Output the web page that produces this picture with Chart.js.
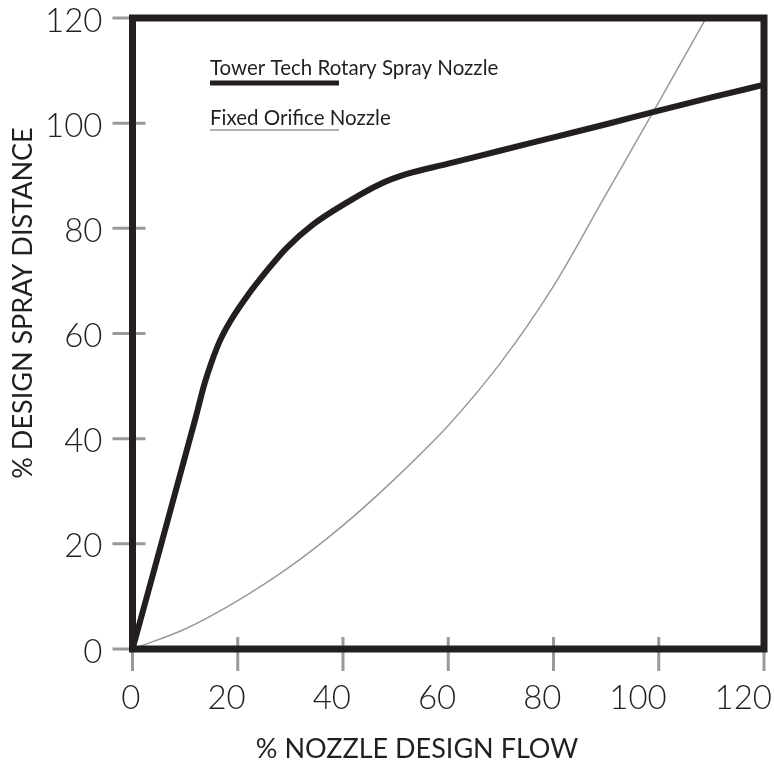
<!DOCTYPE html>
<html>
<head>
<meta charset="utf-8">
<script src="https://cdn.jsdelivr.net/npm/chart.js@4.4.1/dist/chart.umd.min.js"></script>
<style>
  html, body { margin: 0; padding: 0; background: #fff; }
  #wrap { width: 774px; height: 763px; }
</style>
</head>
<body>
<div id="wrap"><canvas id="nozzleChart" width="774" height="763"></canvas></div>
<script>
// Axis ticks
const xTicks = [0, 20, 40, 60, 80, 100, 120];
const yTicks = [0, 20, 40, 60, 80, 100, 120];

// Tower Tech rotary nozzle
const towerFlow = [0, 12, 13.7, 15, 16.6, 18.5, 21.7, 25.5, 29.3, 34.4, 40.7, 47, 52, 60, 70, 80, 90, 100, 110, 120];
const towerDist = [0, 44, 50.5, 54.5, 58.6, 62.2, 67, 71.9, 76.3, 80.8, 84.9, 88.4, 90.3, 92.3, 94.8, 97.3, 99.8, 102.4, 104.9, 107.3];

// Fixed orifice nozzle
const fixedFlow = [0, 10, 20, 30, 40, 50, 60, 70, 80, 90, 100, 109];
const fixedDist = [0, 3.8, 9.2, 15.7, 23.5, 32.5, 42.5, 54.5, 69, 86.5, 104, 120];

const INK = '#231f20';
const GREY = '#999999';
const FONT = 'Lato, "Noto Sans", sans-serif';

const toPoints = (xs, ys) => xs.map((x, i) => ({ x: x, y: ys[i] }));

// gray tick marks that straddle the axes
const tickMarks = {
    id: 'tickMarks',
    beforeDatasetsDraw(chart) {
        const { ctx, chartArea, scales } = chart;
        ctx.save();
        ctx.strokeStyle = GREY;
        ctx.lineWidth = 3;
        xTicks.forEach(v => {
            const px = scales.x.getPixelForValue(v);
            ctx.beginPath();
            ctx.moveTo(px, chartArea.bottom - 12);
            ctx.lineTo(px, chartArea.bottom + 22);
            ctx.stroke();
        });
        yTicks.forEach(v => {
            const py = scales.y.getPixelForValue(v);
            ctx.beginPath();
            ctx.moveTo(chartArea.left - 20, py);
            ctx.lineTo(chartArea.left + 13, py);
            ctx.stroke();
        });
        ctx.restore();
    }
};

// frame, legend and axis titles
const frameAndLabels = {
    id: 'frameAndLabels',
    afterDatasetsDraw(chart) {
        const { ctx, chartArea } = chart;
        ctx.save();
        ctx.strokeStyle = INK;
        ctx.lineWidth = 7;
        ctx.strokeRect(chartArea.left, chartArea.top, chartArea.right - chartArea.left, chartArea.bottom - chartArea.top);

        // legend
        ctx.fillStyle = INK;
        ctx.font = '20.5px ' + FONT;
        ctx.textAlign = 'left';
        ctx.textBaseline = 'alphabetic';
        ctx.fillText('Tower Tech Rotary Spray Nozzle', 210, 75);
        ctx.fillText('Fixed Orifice Nozzle', 210, 125);
        ctx.lineWidth = 5;
        ctx.beginPath();
        ctx.moveTo(210, 83);
        ctx.lineTo(339, 83);
        ctx.stroke();
        ctx.strokeStyle = GREY;
        ctx.lineWidth = 1.5;
        ctx.beginPath();
        ctx.moveTo(210, 130);
        ctx.lineTo(339, 130);
        ctx.stroke();

        // axis titles
        ctx.font = '27px ' + FONT;
        ctx.textAlign = 'center';
        ctx.textBaseline = 'middle';
        ctx.fillText('% NOZZLE DESIGN FLOW', 417, 749);
        ctx.translate(23, 303);
        ctx.rotate(-Math.PI / 2);
        ctx.fillText('% DESIGN SPRAY DISTANCE', 0, 0);
        ctx.restore();
    }
};

new Chart(document.getElementById('nozzleChart'), {
    type: 'scatter',
    data: {
        datasets: [
            {
                label: 'Tower Tech Rotary Spray Nozzle',
                data: toPoints(towerFlow, towerDist),
                showLine: true,
                borderColor: INK,
                borderWidth: 6,
                pointRadius: 0,
                cubicInterpolationMode: 'monotone'
            },
            {
                label: 'Fixed Orifice Nozzle',
                data: toPoints(fixedFlow, fixedDist),
                showLine: true,
                borderColor: GREY,
                borderWidth: 1.5,
                pointRadius: 0,
                cubicInterpolationMode: 'monotone'
            }
        ]
    },
    options: {
        responsive: false,
        animation: false,
        layout: { padding: { top: 18, right: 10, left: 0, bottom: 0 } },
        plugins: {
            legend: { display: false },
            tooltip: { enabled: false }
        },
        scales: {
            x: {
                type: 'linear',
                min: 0,
                max: 120,
                afterFit: (s) => { s.height = 114; s.paddingLeft = 0; s.paddingRight = 0; },
                grid: { display: false, drawTicks: false },
                border: { display: false },
                ticks: {
                    stepSize: 20,
                    color: INK,
                    padding: 30,
                    align: 'end',
                    labelOffset: 8,
                    font: { family: FONT, size: 33, weight: 300 }
                }
            },
            y: {
                type: 'linear',
                min: 0,
                max: 120,
                afterFit: (s) => { s.width = 132.5; s.paddingTop = 0; s.paddingBottom = 0; },
                grid: { display: false, drawTicks: false },
                border: { display: false },
                ticks: {
                    stepSize: 20,
                    color: INK,
                    padding: 30,
                    labelOffset: 3,
                    font: { family: FONT, size: 33, weight: 300 }
                }
            }
        }
    },
    plugins: [tickMarks, frameAndLabels]
});
</script>
</body>
</html>
